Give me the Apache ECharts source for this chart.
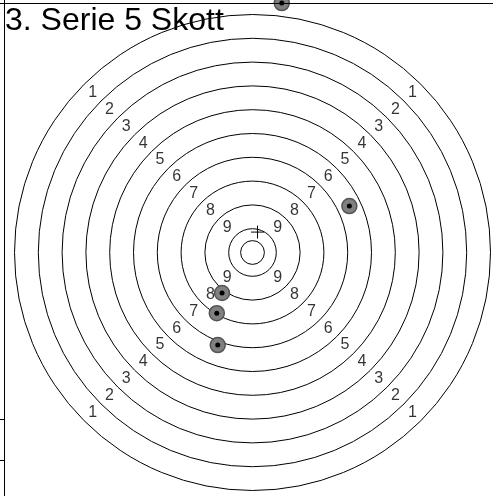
<!DOCTYPE html>
<html>
<head>
<meta charset="utf-8">
<script src="https://cdn.jsdelivr.net/npm/echarts@6/dist/echarts.min.js"></script>
<style>
  html, body { margin: 0; padding: 0; background: #fff; }
  #main { width: 493px; height: 496px; }
</style>
</head>
<body>
<div id="main"></div>
<script>
// ring radii in ring widths (inner X ring + 10..1)
var ringRadii = [0.5, 1, 2, 3, 4, 5, 6, 7, 8, 9, 10];
var ringScores = [1, 2, 3, 4, 5, 6, 7, 8, 9];
// shots, in ring widths from the centre
var shotX = [-1.28, -1.50, -1.46, 4.07, 1.23];
var shotY = [-1.70, -2.55, -3.89, 1.95, 10.48];

var myChart = echarts.init(document.getElementById('main'));

// score labels on the four diagonals, between the rings
var labelData = [];
var dirs = [[-1, 1], [1, 1], [-1, -1], [1, -1]];
ringScores.forEach(function (s) {
    var d = (10.5 - s) / Math.SQRT2;
    dirs.forEach(function (v) {
        labelData.push({ value: [v[0] * d, v[1] * d], label: { formatter: String(s) } });
    });
});

var shots = shotX.map(function (x, i) { return [x, shotY[i]]; });
var meanX = shotX.reduce(function (a, b) { return a + b; }, 0) / shotX.length;
var meanY = shotY.reduce(function (a, b) { return a + b; }, 0) / shotY.length;

option = {
    animation: false,
    title: {
        text: '3. Serie 5 Skott',
        left: 1,
        top: 1,
        padding: [4, 4],
        textStyle: { fontFamily: 'Liberation Sans', fontSize: 32, fontWeight: 'normal', color: '#000' }
    },
    grid: { left: 14.5, top: 14.5, width: 476, height: 476 },
    xAxis: { type: 'value', min: -10, max: 10, show: false },
    yAxis: { type: 'value', min: -10, max: 10, show: false },
    graphic: [
        { type: 'line', z: 100, shape: { x1: 0, y1: 3.5, x2: 493, y2: 3.5 }, style: { stroke: '#000', lineWidth: 1 } },
        { type: 'line', z: 100, shape: { x1: 4.5, y1: 0, x2: 4.5, y2: 496 }, style: { stroke: '#000', lineWidth: 1 } },
        { type: 'line', z: 100, shape: { x1: 0, y1: 419.5, x2: 4.5, y2: 419.5 }, style: { stroke: '#000', lineWidth: 1 } },
        { type: 'line', z: 100, shape: { x1: 0, y1: 460.5, x2: 4.5, y2: 460.5 }, style: { stroke: '#000', lineWidth: 1 } }
    ],
    series: [
        {
            type: 'custom',
            clip: false,
            silent: true,
            data: ringRadii.map(function (r) { return [r, 0]; }),
            renderItem: function (params, api) {
                var c = api.coord([0, 0]);
                var r = api.size([api.value(0), 0])[0];
                return {
                    type: 'circle',
                    shape: { cx: c[0], cy: c[1], r: r },
                    style: { fill: 'none', stroke: '#000', lineWidth: 1 }
                };
            }
        },
        {
            type: 'scatter',
            symbolSize: 0,
            silent: true,
            data: labelData,
            label: {
                show: true,
                position: 'inside',
                color: '#000',
                fontFamily: 'Liberation Sans',
                fontSize: 16
            }
        },
        {
            type: 'scatter',
            clip: false,
            symbolSize: 15,
            itemStyle: { color: '#808080', borderColor: '#555', borderWidth: 1.5, opacity: 1 },
            data: shots,
            z: 3
        },
        {
            type: 'scatter',
            clip: false,
            symbolSize: 5,
            itemStyle: { color: '#000', opacity: 1 },
            data: shots,
            z: 4
        },
        {
            type: 'custom',
            clip: false,
            silent: true,
            z: 5,
            data: [[meanX, meanY]],
            renderItem: function (params, api) {
                var p = api.coord([api.value(0), api.value(1)]);
                var a = 6.5;
                return {
                    type: 'group',
                    children: [
                        { type: 'line', shape: { x1: p[0] - a, y1: p[1], x2: p[0] + a, y2: p[1] }, style: { stroke: '#000', lineWidth: 1 } },
                        { type: 'line', shape: { x1: p[0], y1: p[1] - a, x2: p[0], y2: p[1] + a }, style: { stroke: '#000', lineWidth: 1 } }
                    ]
                };
            }
        }
    ]
};

myChart.setOption(option);
</script>
</body>
</html>
